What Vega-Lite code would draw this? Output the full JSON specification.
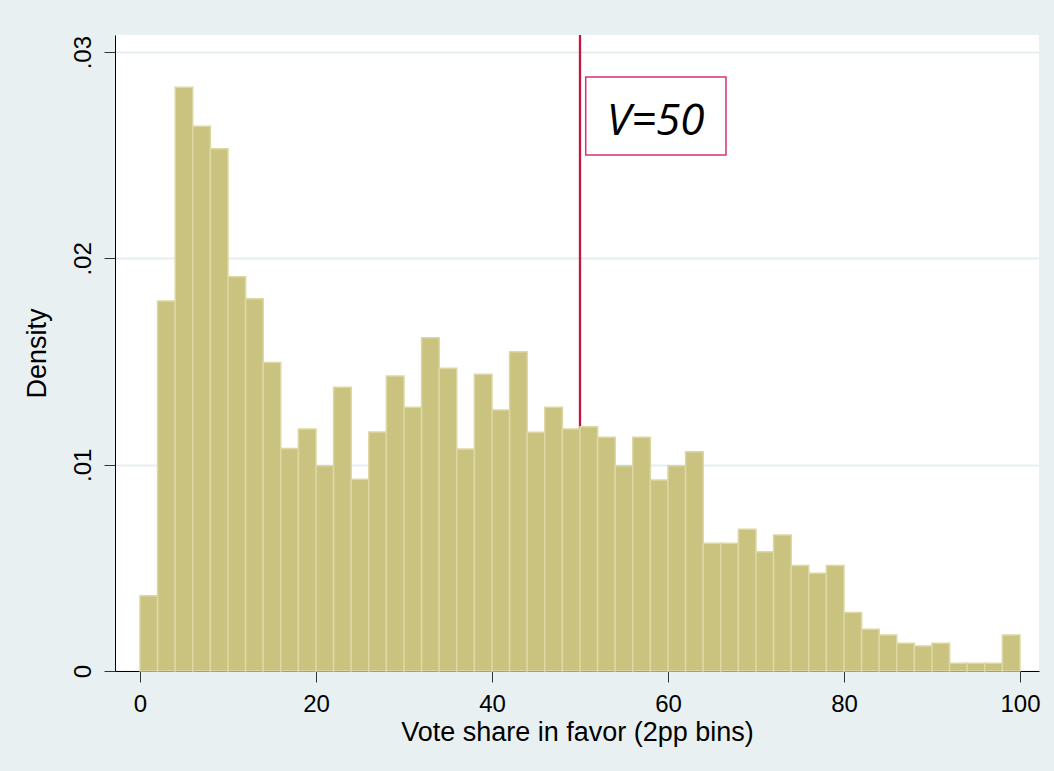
{
  "$schema": "https://vega.github.io/schema/vega-lite/v6.json",
  "width": 924,
  "height": 636,
  "autosize": {"type": "none"},
  "padding": {"left": 115, "top": 35, "right": 15, "bottom": 100},
  "background": "#e9f0f2",
  "config": {"view": {"fill": "white", "stroke": null}, "font": "Liberation Sans"},
  "datasets": {
    "bins": [
      {"bin_start": 0, "bin_end": 2, "density": 0.00365},
      {"bin_start": 2, "bin_end": 4, "density": 0.01793},
      {"bin_start": 4, "bin_end": 6, "density": 0.02830},
      {"bin_start": 6, "bin_end": 8, "density": 0.02641},
      {"bin_start": 8, "bin_end": 10, "density": 0.02531},
      {"bin_start": 10, "bin_end": 12, "density": 0.01911},
      {"bin_start": 12, "bin_end": 14, "density": 0.01804},
      {"bin_start": 14, "bin_end": 16, "density": 0.01496},
      {"bin_start": 16, "bin_end": 18, "density": 0.01079},
      {"bin_start": 18, "bin_end": 20, "density": 0.01173},
      {"bin_start": 20, "bin_end": 22, "density": 0.00995},
      {"bin_start": 22, "bin_end": 24, "density": 0.01375},
      {"bin_start": 24, "bin_end": 26, "density": 0.00929},
      {"bin_start": 26, "bin_end": 28, "density": 0.01158},
      {"bin_start": 28, "bin_end": 30, "density": 0.01430},
      {"bin_start": 30, "bin_end": 32, "density": 0.01278},
      {"bin_start": 32, "bin_end": 34, "density": 0.01615},
      {"bin_start": 34, "bin_end": 36, "density": 0.01467},
      {"bin_start": 36, "bin_end": 38, "density": 0.01076},
      {"bin_start": 38, "bin_end": 40, "density": 0.01439},
      {"bin_start": 40, "bin_end": 42, "density": 0.01265},
      {"bin_start": 42, "bin_end": 44, "density": 0.01548},
      {"bin_start": 44, "bin_end": 46, "density": 0.01157},
      {"bin_start": 46, "bin_end": 48, "density": 0.01278},
      {"bin_start": 48, "bin_end": 50, "density": 0.01173},
      {"bin_start": 50, "bin_end": 52, "density": 0.01184},
      {"bin_start": 52, "bin_end": 54, "density": 0.01133},
      {"bin_start": 54, "bin_end": 56, "density": 0.00995},
      {"bin_start": 56, "bin_end": 58, "density": 0.01133},
      {"bin_start": 58, "bin_end": 60, "density": 0.00926},
      {"bin_start": 60, "bin_end": 62, "density": 0.00995},
      {"bin_start": 62, "bin_end": 64, "density": 0.01063},
      {"bin_start": 64, "bin_end": 66, "density": 0.00619},
      {"bin_start": 66, "bin_end": 68, "density": 0.00619},
      {"bin_start": 68, "bin_end": 70, "density": 0.00687},
      {"bin_start": 70, "bin_end": 72, "density": 0.00578},
      {"bin_start": 72, "bin_end": 74, "density": 0.00659},
      {"bin_start": 74, "bin_end": 76, "density": 0.00512},
      {"bin_start": 76, "bin_end": 78, "density": 0.00474},
      {"bin_start": 78, "bin_end": 80, "density": 0.00512},
      {"bin_start": 80, "bin_end": 82, "density": 0.00283},
      {"bin_start": 82, "bin_end": 84, "density": 0.00202},
      {"bin_start": 84, "bin_end": 86, "density": 0.00174},
      {"bin_start": 86, "bin_end": 88, "density": 0.00134},
      {"bin_start": 88, "bin_end": 90, "density": 0.00121},
      {"bin_start": 90, "bin_end": 92, "density": 0.00134},
      {"bin_start": 92, "bin_end": 94, "density": 0.00037},
      {"bin_start": 94, "bin_end": 96, "density": 0.00037},
      {"bin_start": 96, "bin_end": 98, "density": 0.00037},
      {"bin_start": 98, "bin_end": 100, "density": 0.00174}
    ],
    "ann": [
      {"vline": 50, "bx1": 50.65, "bx2": 66.59, "by1": 0.02501, "by2": 0.02880, "tx": 58.6, "ty": 0.02598, "label": "V=50"}
    ]
  },
  "layer": [
    {
      "data": {"name": "ann"},
      "mark": {"type": "rule", "color": "#c8153f", "strokeWidth": 2.3},
      "encoding": {
        "x": {"field": "vline", "type": "quantitative", "title": "Vote share in favor (2pp bins)"}
      }
    },
    {
      "data": {"name": "bins"},
      "mark": {"type": "rect", "fill": "#cac380", "stroke": "#dcd7a3", "strokeWidth": 1.5},
      "encoding": {
        "x": {
          "field": "bin_start", "type": "quantitative",
          "scale": {"domain": [-2.84, 102.16], "nice": false, "zero": false},
          "title": "Vote share in favor (2pp bins)",
          "axis": {
            "values": [0, 20, 40, 60, 80, 100],
            "grid": false,
            "domainColor": "black",
            "tickColor": "#333333",
            "tickSize": 11,
            "labelFontSize": 24,
            "labelColor": "black",
            "labelPadding": 10,
            "titleFontSize": 27,
            "titleFontWeight": "normal",
            "titleColor": "black",
            "titlePadding": 3
          }
        },
        "x2": {"field": "bin_end"},
        "y": {
          "field": "density", "type": "quantitative",
          "scale": {"domain": [0, 0.03083], "nice": false},
          "title": "Density",
          "axis": {
            "values": [0, 0.01, 0.02, 0.03],
            "labelExpr": "datum.value == 0 ? '0' : replace(format(datum.value, '.2f'), '0.', '.')",
            "labelAngle": 270,
            "grid": true,
            "gridColor": "#e6eef0",
            "gridWidth": 2,
            "domainColor": "black",
            "tickColor": "#333333",
            "tickSize": 11,
            "labelFontSize": 24,
            "labelColor": "black",
            "labelPadding": 9,
            "titleFontSize": 27,
            "titleFontWeight": "normal",
            "titleColor": "black",
            "titlePadding": 20
          }
        }
      }
    },
    {
      "data": {"name": "ann"},
      "mark": {"type": "rect", "fill": "white", "stroke": "#d8307a", "strokeWidth": 1.5},
      "encoding": {
        "x": {"field": "bx1", "type": "quantitative", "title": "Vote share in favor (2pp bins)"},
        "x2": {"field": "bx2"},
        "y": {"field": "by1", "type": "quantitative", "title": "Density"},
        "y2": {"field": "by2"}
      }
    },
    {
      "data": {"name": "ann"},
      "mark": {"type": "text", "font": "Open Sans", "fontStyle": "italic", "fontSize": 44, "baseline": "alphabetic", "align": "center", "color": "black"},
      "encoding": {
        "x": {"field": "tx", "type": "quantitative", "title": "Vote share in favor (2pp bins)"},
        "y": {"field": "ty", "type": "quantitative", "title": "Density"},
        "text": {"field": "label"}
      }
    }
  ]
}
